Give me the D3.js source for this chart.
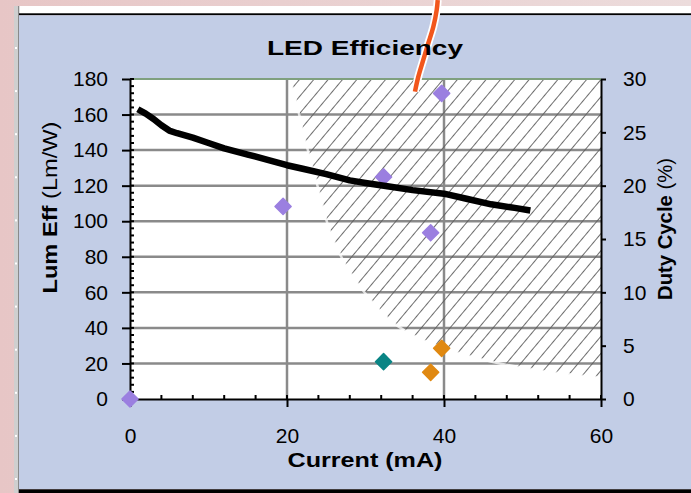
<!DOCTYPE html>
<html>
<head>
<meta charset="utf-8">
<script src="https://cdn.jsdelivr.net/npm/d3@7"></script>
<style>
  html, body { margin: 0; padding: 0; background: #fff; }
  svg { display: block; }
</style>
</head>
<body>
<svg id="chart" width="691" height="493"></svg>
<script>
// Luminous efficacy of the LED against drive current (left axis, Lm/W)
const effCurrent = [1, 2, 3, 4, 5, 6, 8, 10, 12, 15, 18, 20, 22, 25, 28, 30, 33, 36, 40, 43, 46, 49, 51];
const effValue   = [163, 160.5, 157.5, 154, 151, 149.5, 147, 144, 141, 137.5, 134, 131.5, 129.5, 126.5, 123, 121.5, 119.5, 117.5, 115.5, 112.5, 109.5, 107.5, 106];

// Measured samples on the efficacy axis
const purpleCurrent = [0, 19.5, 32.3, 39.7, 38.3];
const purpleEff     = [0, 108.3, 124.9, 171.9, 93.5];

// Measured samples on the duty-cycle axis (right, %)
const tealCurrent   = [32.3];
const tealDuty      = [3.5];
const orangeCurrent = [38.3, 39.7];
const orangeDuty    = [2.5, 4.75];

// Lower edge of the hatched operating zone
const zoneCurrent = [20.4, 21.3, 22.0, 22.9, 24.0, 25.2, 26.8, 28.7, 30.8, 33.5, 36.9, 39.8, 43.3, 47.1, 52.2, 60];
const zoneEff     = [180, 165, 151, 136, 118, 98, 81, 67, 55, 43, 34, 29, 24, 20, 16, 12];

// Orange break marker running down from the top edge
const breakCurrent = [39.2, 39.07, 38.64, 38.0, 37.36, 36.73, 36.3];
const breakEff     = [224.4, 218.8, 209.4, 200.1, 190.7, 181.3, 172.9];

// Axis ticks
const xTicks      = [0, 20, 40, 60];
const yLeftTicks  = [0, 20, 40, 60, 80, 100, 120, 140, 160, 180];
const yRightTicks = [0, 5, 10, 15, 20, 25, 30];

const W = 691, H = 493;
const svg = d3.select("#chart");
const defs = svg.append("defs");

const x  = d3.scaleLinear().domain([0, 60]).range([130, 601]);
const yL = d3.scaleLinear().domain([0, 180]).range([399, 79]);
const yR = d3.scaleLinear().domain([0, 30]).range([399, 79]);

// ---- window frame ----
const bg = defs.append("linearGradient").attr("id", "bgGrad").attr("x1", 0).attr("x2", 1).attr("y1", 0).attr("y2", 0);
bg.append("stop").attr("offset", 0).attr("stop-color", "#e7c6c6");
bg.append("stop").attr("offset", 1).attr("stop-color", "#ecdcdc");
svg.append("rect").attr("width", W).attr("height", H).attr("fill", "url(#bgGrad)");
svg.append("rect").attr("x", 14).attr("y", 6).attr("width", W - 14).attr("height", 8).attr("fill", "#ffffff");
svg.append("rect").attr("x", 14).attr("y", 6).attr("width", 5).attr("height", H - 6).attr("fill", "#cfcfcf");
svg.append("rect").attr("x", 18).attr("y", 6).attr("width", 1.3).attr("height", H - 6).attr("fill", "#8a8a8a");
d3.range(0, 11).forEach(k => {
  svg.append("rect").attr("x", 15).attr("y", 47 + 43.1 * k).attr("width", 2).attr("height", 2).attr("fill", "#ffffff");
});
svg.append("rect").attr("x", 19).attr("y", 13.3).attr("width", W - 19).attr("height", 2).attr("fill", "#000");
svg.append("rect").attr("x", 19).attr("y", 15.3).attr("width", W - 19).attr("height", 474).attr("fill", "#c2cde6");
svg.append("rect").attr("x", 19).attr("y", 489.3).attr("width", W - 19).attr("height", 4).attr("fill", "#000");

// ---- plot area ----
const px0 = x(0), px1 = x(60), py0 = yL(180), py1 = yL(0);
defs.append("clipPath").attr("id", "plotClip")
  .append("rect").attr("x", px0).attr("y", py0).attr("width", px1 - px0).attr("height", py1 - py0);
svg.append("rect").attr("x", px0).attr("y", py0).attr("width", px1 - px0).attr("height", py1 - py0).attr("fill", "#fff");

const plot = svg.append("g").attr("clip-path", "url(#plotClip)");

// gridlines
yLeftTicks.filter(v => v > 0 && v < 180).forEach(v => {
  plot.append("line").attr("x1", px0).attr("x2", px1).attr("y1", yL(v)).attr("y2", yL(v))
    .attr("stroke", "#8a8a8a").attr("stroke-width", 2.5);
});
xTicks.filter(v => v > 0 && v < 60).forEach(v => {
  plot.append("line").attr("x1", x(v)).attr("x2", x(v)).attr("y1", py0).attr("y2", py1)
    .attr("stroke", "#8a8a8a").attr("stroke-width", 2.5);
});

// hatched zone
const hatch = defs.append("pattern").attr("id", "hatch").attr("patternUnits", "userSpaceOnUse")
  .attr("width", 11).attr("height", 11).attr("patternTransform", "rotate(40)");
hatch.append("line").attr("x1", 5.5).attr("x2", 5.5).attr("y1", 0).attr("y2", 11)
  .attr("stroke", "#5e5e5e").attr("stroke-width", 0.9);

const zone = zoneCurrent.map((c, i) => [c, zoneEff[i]]);
const zoneArea = d3.area().x(d => x(d[0])).y0(yL(180)).y1(d => yL(d[1])).curve(d3.curveMonotoneX);
plot.append("path").attr("d", zoneArea(zone)).attr("fill", "url(#hatch)");

// top edge of the plot
svg.append("line").attr("x1", px0).attr("x2", px1).attr("y1", py0).attr("y2", py0)
  .attr("stroke", "#7fa07f").attr("stroke-width", 2);

// ---- axes ----
const tickFont = "'Liberation Sans', Arial, sans-serif";
function styleAxis(g) {
  g.attr("font-family", tickFont).attr("font-size", 21);
  g.select(".domain").attr("stroke", "#000").attr("stroke-width", 2);
  g.selectAll(".tick line").attr("stroke", "#000").attr("stroke-width", 2);
  g.selectAll(".tick text").attr("fill", "#000");
}

const gl = svg.append("g").attr("transform", `translate(${px0},0)`)
  .call(d3.axisLeft(yL).tickValues(yLeftTicks).tickSize(8).tickSizeOuter(0).tickPadding(14));
styleAxis(gl);
d3.range(0, 181, 4).forEach(v => {
  gl.append("line").attr("x1", 0).attr("x2", 4).attr("y1", yL(v)).attr("y2", yL(v))
    .attr("stroke", "#000").attr("stroke-width", 2);
});

const gb = svg.append("g").attr("transform", `translate(0,${py1})`)
  .call(d3.axisBottom(x).tickValues(xTicks).tickSize(8).tickSizeOuter(0).tickPadding(21));
styleAxis(gb);
d3.range(0, 61, 4).forEach(v => {
  gb.append("line").attr("x1", x(v)).attr("x2", x(v)).attr("y1", 0).attr("y2", -4)
    .attr("stroke", "#000").attr("stroke-width", 2);
});

const gr = svg.append("g").attr("transform", `translate(${px1},0)`)
  .call(d3.axisRight(yR).tickValues(yRightTicks).tickSize(5).tickSizeOuter(0).tickPadding(17));
styleAxis(gr);

// ---- zone edge ----
const zoneLine = d3.line().x(d => x(d[0])).y(d => yL(d[1])).curve(d3.curveMonotoneX);

// ---- markers ----
const diamond = d3.symbol().type(d3.symbolSquare).size(130);
function drawMarkers(xs, ys, yScale, color) {
  svg.append("g").selectAll("path")
    .data(xs.map((c, i) => [c, ys[i]]))
    .join("path")
    .attr("d", diamond)
    .attr("transform", d => `translate(${x(d[0])},${yScale(d[1])}) rotate(45)`)
    .attr("fill", color)
    .attr("stroke", color).attr("stroke-width", 1.5).attr("stroke-linejoin", "round");
}
drawMarkers(purpleCurrent, purpleEff, yL, "#9b7fe0");
drawMarkers(tealCurrent, tealDuty, yR, "#0a8585");
drawMarkers(orangeCurrent, orangeDuty, yR, "#e08912");

plot.append("path").attr("d", zoneLine(zone)).attr("fill", "none")
  .attr("stroke", "#ffffff").attr("stroke-opacity", 0.75).attr("stroke-width", 2.5);

// ---- efficacy curve ----
const eff = effCurrent.map((c, i) => [c, effValue[i]]);
svg.append("path")
  .attr("d", d3.line().x(d => x(d[0])).y(d => yL(d[1]))(eff))
  .attr("fill", "none").attr("stroke", "#000").attr("stroke-width", 6.5)
  .attr("stroke-linejoin", "round");

// ---- break marker ----
const brk = breakCurrent.map((c, i) => [c, breakEff[i]]);
const brkLine = d3.line().x(d => x(d[0])).y(d => yL(d[1])).curve(d3.curveCatmullRom);
svg.append("path").attr("d", brkLine(brk)).attr("fill", "none")
  .attr("stroke", "#ffffff").attr("stroke-width", 8);
svg.append("path").attr("d", brkLine(brk)).attr("fill", "none")
  .attr("stroke", "#f2561c").attr("stroke-width", 4.5);

// ---- titles ----
const boldFont = "'Liberation Sans', Arial, sans-serif";
svg.append("text").attr("x", 365).attr("y", 55).attr("text-anchor", "middle")
  .attr("font-family", boldFont).attr("font-weight", "bold").attr("font-size", 21)
  .attr("textLength", 196).attr("lengthAdjust", "spacingAndGlyphs")
  .text("LED Efficiency");

svg.append("text").attr("x", 365).attr("y", 467).attr("text-anchor", "middle")
  .attr("font-family", boldFont).attr("font-weight", "bold").attr("font-size", 20)
  .attr("textLength", 155).attr("lengthAdjust", "spacingAndGlyphs")
  .text("Current (mA)");

const yt = svg.append("text").attr("transform", "translate(57,207.5) rotate(-90)")
  .attr("text-anchor", "middle").attr("font-family", boldFont).attr("font-size", 20)
  .attr("textLength", 172).attr("lengthAdjust", "spacingAndGlyphs");
yt.append("tspan").attr("font-weight", "bold").text("Lum Eff ");
yt.append("tspan").text("(Lm/W)");

const rt = svg.append("text").attr("transform", "translate(672,229) rotate(-90)")
  .attr("text-anchor", "middle").attr("font-family", boldFont).attr("font-size", 20)
  .attr("textLength", 142).attr("lengthAdjust", "spacingAndGlyphs");
rt.append("tspan").attr("font-weight", "bold").text("Duty Cycle ");
rt.append("tspan").text("(%)");
</script>
</body>
</html>
